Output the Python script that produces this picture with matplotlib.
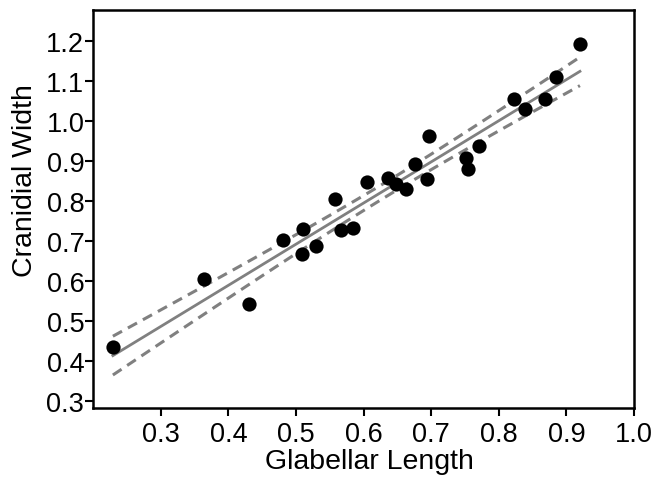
import numpy as np
import matplotlib
matplotlib.use("Agg")
import matplotlib.pyplot as plt

plt.rcParams["font.family"] = ["Liberation Sans", "DejaVu Sans"]

# glabellar length vs cranidial width
glabellar = [0.229, 0.364, 0.431, 0.480, 0.509, 0.511, 0.530, 0.558, 0.567, 0.584,
             0.605, 0.636, 0.648, 0.663, 0.676, 0.697, 0.693, 0.752, 0.754, 0.770,
             0.823, 0.839, 0.869, 0.884, 0.920]
cranidial = [0.437, 0.605, 0.544, 0.703, 0.669, 0.730, 0.688, 0.806, 0.729, 0.733,
             0.849, 0.858, 0.844, 0.831, 0.893, 0.962, 0.856, 0.907, 0.880, 0.937,
             1.055, 1.030, 1.055, 1.109, 1.193]

x_ticks = [0.3, 0.4, 0.5, 0.6, 0.7, 0.8, 0.9, 1.0]
y_ticks = [0.3, 0.4, 0.5, 0.6, 0.7, 0.8, 0.9, 1.0, 1.1, 1.2]

x = np.array(glabellar)
y = np.array(cranidial)
n = len(x)

# least squares line with 95% confidence band of the mean
slope, icpt = np.polyfit(x, y, 1)
resid = y - (slope * x + icpt)
s = np.sqrt(np.sum(resid**2) / (n - 2))
sxx = np.sum((x - x.mean())**2)
t_crit = 2.069  # t(0.975, 23)
xf = np.linspace(x.min(), x.max(), 100)
yf = slope * xf + icpt
half = t_crit * s * np.sqrt(1.0 / n + (xf - x.mean())**2 / sxx)

fig = plt.figure(figsize=(6.57, 4.81), dpi=100)
ax = fig.add_axes([0.142, 0.150, 0.823, 0.827])

grey = "#808080"
ax.plot(xf, yf, color=grey, lw=2.0, zorder=2)
ax.plot(xf, yf + half, color=grey, lw=2.2, ls=(0, (3.4, 2.2)), zorder=2)
ax.plot(xf, yf - half, color=grey, lw=2.2, ls=(0, (3.4, 2.2)), zorder=2)
ax.scatter(x, y, s=105, color="black", zorder=3, linewidths=0)

ax.set_xlim(0.2, 1.0)
ax.set_ylim(0.284, 1.277)
ax.set_xticks(x_ticks)
ax.set_yticks(y_ticks)
ax.set_xticklabels([f"{v:.1f}" for v in x_ticks])
ax.set_yticklabels([f"{v:.1f}" for v in y_ticks])

for sp in ax.spines.values():
    sp.set_linewidth(1.8)
ax.tick_params(axis="both", direction="out", length=5.5, width=1.5,
               labelsize=19.5, colors="black")
ax.tick_params(axis="y", pad=1)
ax.tick_params(axis="x", pad=4)

ax.set_xlabel("Glabellar Length", fontsize=20.5, labelpad=1)
ax.set_ylabel("Cranidial Width", fontsize=20.5, labelpad=6)
# labels sit a bit off centre in the original
ax.xaxis.label.set_x(0.51)
ax.yaxis.label.set_y(0.575)

fig.savefig("out.png", dpi=100)
